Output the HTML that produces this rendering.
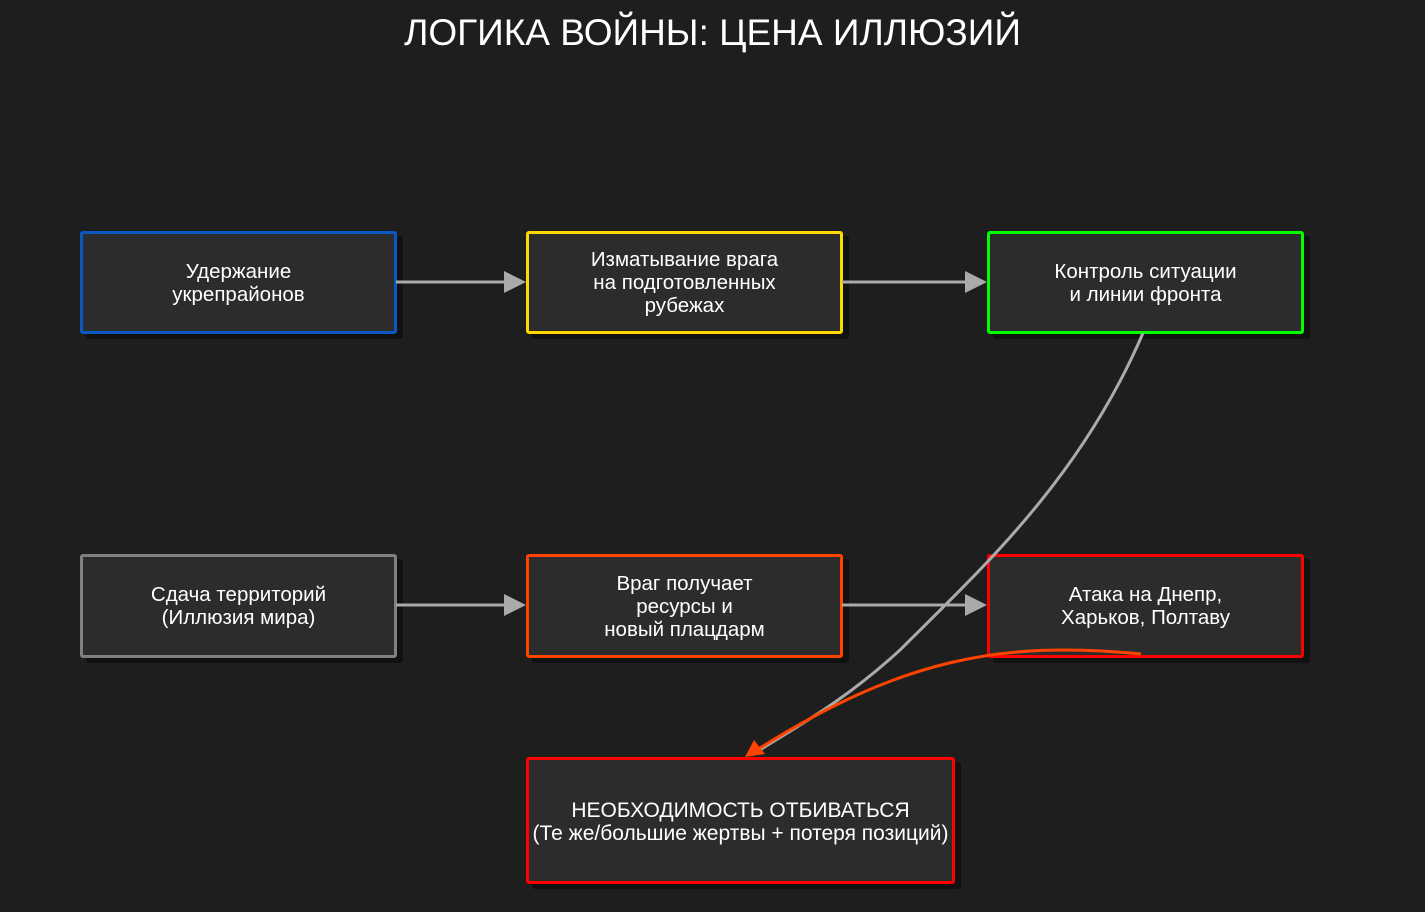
<!DOCTYPE html>
<html><head><meta charset="utf-8"><style>
body{margin:0;width:1425px;height:912px;background:#1e1e1e;overflow:hidden;font-family:"Liberation Sans",sans-serif;}
.t{position:absolute;top:12px;left:0;width:1425px;text-align:center;color:#fff;font-size:37px;}
.b{position:absolute;box-sizing:border-box;border:3px solid;border-radius:3px;background:#2c2c2c;color:#fff;font-size:20.5px;line-height:23px;display:flex;align-items:center;justify-content:center;text-align:center;box-shadow:6px 5px 0 #111;white-space:nowrap;}
svg{position:absolute;left:0;top:0;z-index:2}
</style></head><body>
<div class="t">ЛОГИКА ВОЙНЫ: ЦЕНА ИЛЛЮЗИЙ</div>
<div class="b" style="left:80px;top:231px;width:317px;height:103px;border-color:#0a58c2">Удержание<br>укрепрайонов</div>
<div class="b" style="left:526px;top:231px;width:317px;height:103px;border-color:#ffd800">Изматывание врага<br>на подготовленных<br>рубежах</div>
<div class="b" style="left:987px;top:231px;width:317px;height:103px;border-color:#00ff00">Контроль ситуации<br>и линии фронта</div>
<div class="b" style="left:80px;top:554px;width:317px;height:104px;border-color:#808080">Сдача территорий<br>(Иллюзия мира)</div>
<div class="b" style="left:526px;top:554px;width:317px;height:104px;border-color:#ff4400">Враг получает<br>ресурсы и<br>новый плацдарм</div>
<div class="b" style="left:987px;top:554px;width:317px;height:104px;border-color:#ff0000">Атака на Днепр,<br>Харьков, Полтаву</div>
<div class="b" style="left:526px;top:757px;width:429px;height:127px;border-color:#ff0000;font-size:21px;padding-top:2px">НЕОБХОДИМОСТЬ ОТБИВАТЬСЯ<br>(Те же/большие жертвы + потеря позиций)</div>
<svg width="1425" height="912">
<g stroke="#aaaaaa" stroke-width="3" fill="none">
<line x1="396" y1="282" x2="508" y2="282"/>
<line x1="842" y1="282" x2="968" y2="282"/>
<line x1="396" y1="605" x2="508" y2="605"/>
<line x1="842" y1="605" x2="968" y2="605"/>
<path d="M1143,333 C1080,480 980,570 900,650 C840,705 790,730 752,755"/>
</g>
<g fill="#aaaaaa">
<polygon points="526,282 504,271 504,293"/>
<polygon points="987,282 965,271 965,293"/>
<polygon points="526,605 504,594 504,616"/>
<polygon points="987,605 965,594 965,616"/>
</g>
<path d="M1141,654 C1000,640 900,660 760,748" stroke="#ff4400" stroke-width="3" fill="none"/>
<polygon points="745,757 754,740 765,754" fill="#ff4400"/>
</svg>
</body></html>
